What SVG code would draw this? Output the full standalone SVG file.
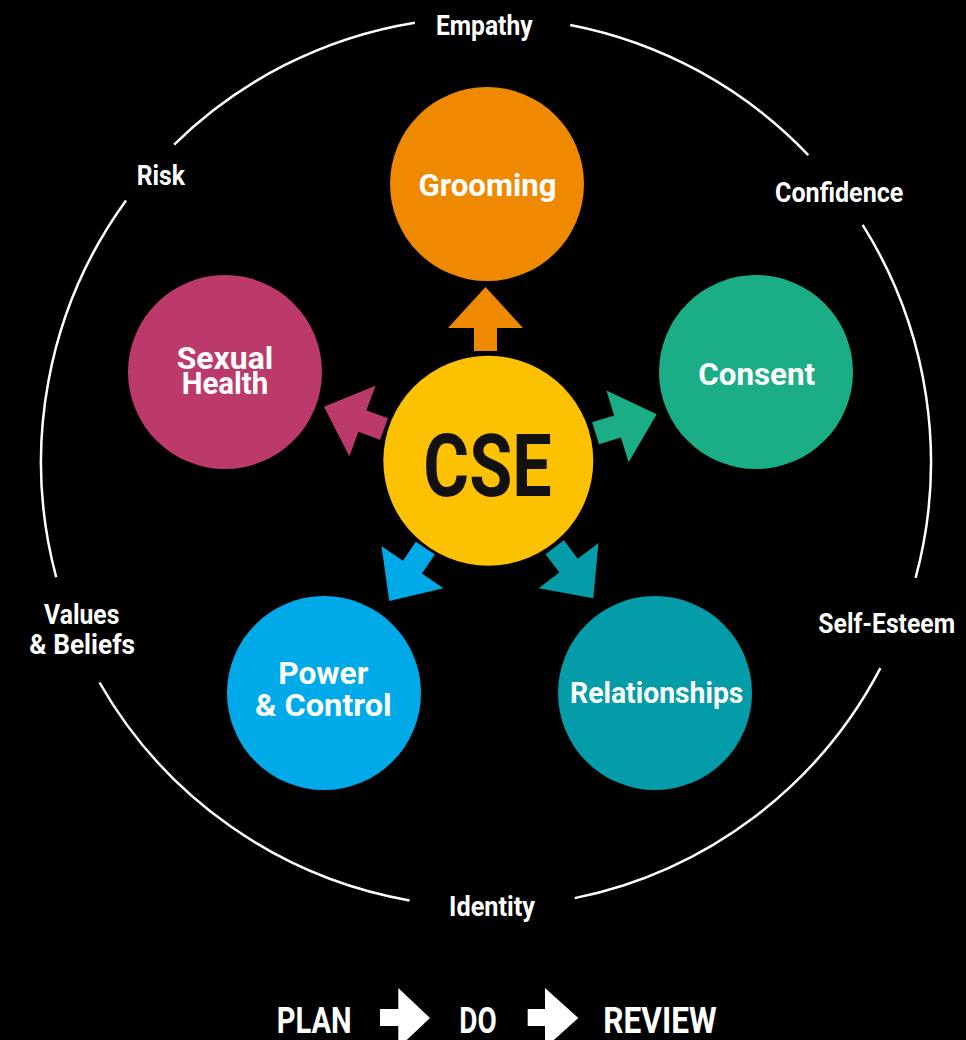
<svg xmlns="http://www.w3.org/2000/svg" xmlns:xlink="http://www.w3.org/1999/xlink" width="966" height="1040" viewBox="0 0 966 1040">
<defs>
<style>
text{font-family:Roboto,"Liberation Sans",Arial,sans-serif;font-weight:700;fill:#fff;text-anchor:middle}
.node{font-size:32px}
.ring{font-size:28px}
.cse{font-size:88px;fill:#111}
.step{font-size:36px}
.arc{fill:none;stroke:#fff;stroke-width:2.5}
</style>
<path id="arr" d="M0,0 L37.5,41 L11.5,41 L11.5,64 L-11.5,64 L-11.5,41 L-37.5,41 Z"/>
</defs>
<rect width="966" height="1040" fill="#000"/>
<g id="ring">
<path class="arc" d="M570.2,25 A445,445 0 0 1 808.3,155.1"/>
<path class="arc" d="M862.6,224.9 A445,445 0 0 1 915.6,577.9"/>
<path class="arc" d="M880.4,668.2 A445,445 0 0 1 574.7,898.1"/>
<path class="arc" d="M409.5,900.4 A445,445 0 0 1 99.5,682.5"/>
<path class="arc" d="M56.2,577.2 A445,445 0 0 1 126,200.4"/>
<path class="arc" d="M174.1,144.6 A445,445 0 0 1 414.9,22.7"/>
</g>
<g id="ring-labels">
<text class="ring" x="484.3" y="35" textLength="96.7" lengthAdjust="spacingAndGlyphs">Empathy</text>
<text class="ring" x="839.2" y="201.7" textLength="128.3" lengthAdjust="spacingAndGlyphs">Confidence</text>
<text class="ring" x="886.7" y="633.3" textLength="136.7" lengthAdjust="spacingAndGlyphs">Self-Esteem</text>
<text class="ring" x="492" y="916" textLength="86" lengthAdjust="spacingAndGlyphs">Identity</text>
<text class="ring" x="81.7" y="624" textLength="75.3" lengthAdjust="spacingAndGlyphs">Values</text>
<text class="ring" x="82.2" y="654" textLength="105.7" lengthAdjust="spacingAndGlyphs">&amp; Beliefs</text>
<text class="ring" x="160.8" y="185" textLength="48.3" lengthAdjust="spacingAndGlyphs">Risk</text>
</g>
<g id="connectors">
<use xlink:href="#arr" href="#arr" fill="#EF8A00" transform="translate(485.5,287)"/>
<use xlink:href="#arr" href="#arr" fill="#1BAD85" transform="translate(656.7,414.3) rotate(72.8)"/>
<use xlink:href="#arr" href="#arr" fill="#049CA8" transform="translate(593.3,598.3) rotate(142.9)"/>
<use xlink:href="#arr" href="#arr" fill="#00A9E7" transform="translate(389.3,601) rotate(214.3)"/>
<use xlink:href="#arr" href="#arr" fill="#BC3A6B" transform="translate(324,406.7) rotate(290.4)"/>
</g>
<g id="grooming">
<circle cx="487" cy="184" r="97" fill="#EF8A00"/>
<text class="node" x="487.5" y="196" textLength="138" lengthAdjust="spacingAndGlyphs">Grooming</text>
</g>
<g id="consent">
<circle cx="756" cy="372" r="97" fill="#1BAD85"/>
<text class="node" x="756.7" y="385" textLength="117" lengthAdjust="spacingAndGlyphs">Consent</text>
</g>
<g id="relationships">
<circle cx="655" cy="693" r="97" fill="#049CA8"/>
<text class="node" x="656.7" y="703" style="font-size:29.5px" textLength="173.3" lengthAdjust="spacingAndGlyphs">Relationships</text>
</g>
<g id="power-control">
<circle cx="324" cy="693" r="97" fill="#00A9E7"/>
<text class="node" x="323.3" y="684.3" textLength="90" lengthAdjust="spacingAndGlyphs">Power</text>
<text class="node" x="323.3" y="716" textLength="136.7" lengthAdjust="spacingAndGlyphs">&amp; Control</text>
</g>
<g id="sexual-health">
<circle cx="225" cy="372" r="97" fill="#BC3A6B"/>
<text class="node" x="225" y="369" style="font-size:31px" textLength="96.6" lengthAdjust="spacingAndGlyphs">Sexual</text>
<text class="node" x="225" y="394.3" style="font-size:31px" textLength="86.6" lengthAdjust="spacingAndGlyphs">Health</text>
</g>
<g id="cse">
<circle cx="488.3" cy="460.8" r="105" fill="#FCC100"/>
<text class="cse" x="487.5" y="496" textLength="128.3" lengthAdjust="spacingAndGlyphs">CSE</text>
</g>
<g id="plan-do-review">
<text class="step" x="314.2" y="1032.7" textLength="75" lengthAdjust="spacingAndGlyphs">PLAN</text>
<path d="M380,1009 H398.3 V988 L430,1018 L398.3,1048 V1026 H380 Z" fill="#fff"/>
<text class="step" x="478" y="1032.7" textLength="37.4" lengthAdjust="spacingAndGlyphs">DO</text>
<path d="M527.7,1009 H545 V988 L578.3,1018 L545,1048 V1026 H527.7 Z" fill="#fff"/>
<text class="step" x="660" y="1032.7" textLength="113.4" lengthAdjust="spacingAndGlyphs">REVIEW</text>
</g>
</svg>
